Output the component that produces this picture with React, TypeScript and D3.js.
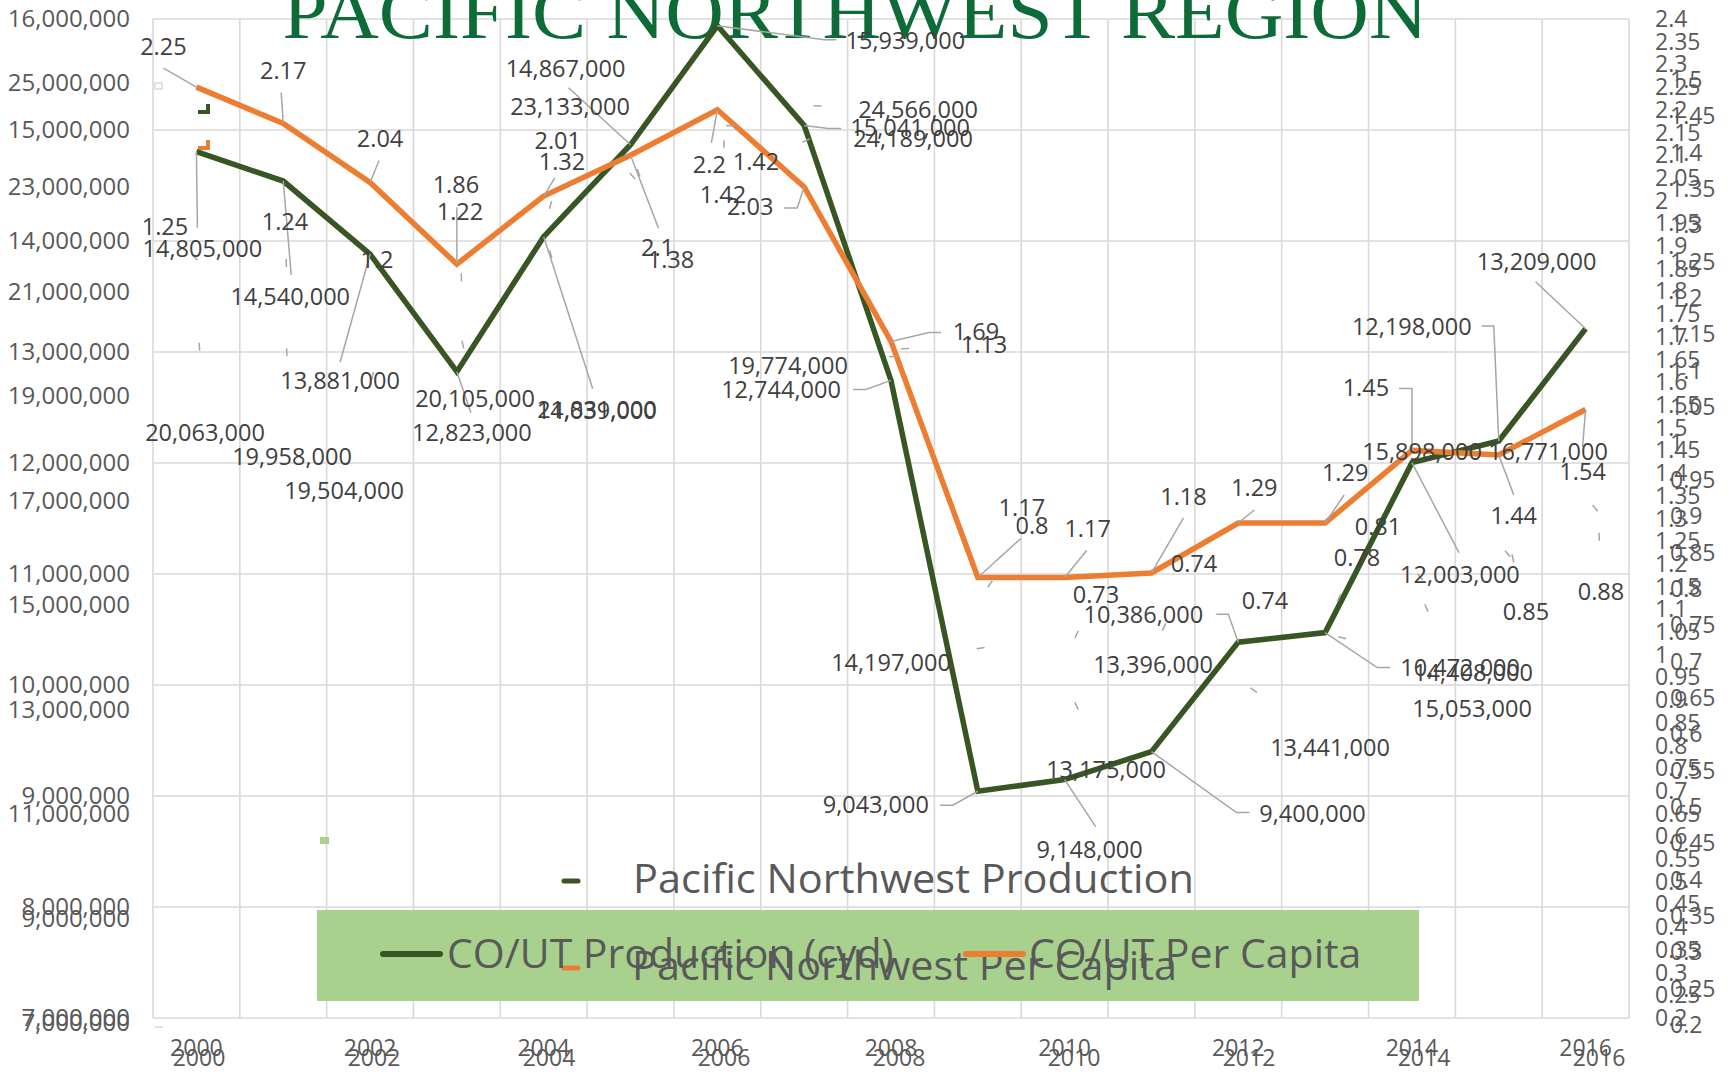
import React from "react";
import * as d3 from "d3";

// ---------- data ----------
const years = [2000, 2001, 2002, 2003, 2004, 2005, 2006, 2007, 2008, 2009, 2010, 2011, 2012, 2013, 2014, 2015, 2016];
const xTickYears = [2000, 2002, 2004, 2006, 2008, 2010, 2012, 2014, 2016];

// CO/UT (primary chart)
const prodCOUT = [14805000, 14540000, 13881000, 12823000, 14039000, 14867000, 15939000, 15041000, 12744000, 9043000, 9148000, 9400000, 10386000, 10472000, 12003000, 12198000, 13209000];
const perCapCOUT = [2.25, 2.17, 2.04, 1.86, 2.01, 2.1, 2.2, 2.03, 1.69, 1.17, 1.17, 1.18, 1.29, 1.29, 1.45, 1.44, 1.54];

// Pacific Northwest (overlaid second chart, labels only)
const prodPNW = [20063000, 19958000, 19504000, 20105000, 21831000, 23133000, 24189000, 24566000, 19774000, 14197000, 13175000, 13396000, 13441000, 14408000, 15053000, 15898000, 16771000];
const perCapPNW = [1.25, 1.24, 1.2, 1.22, 1.32, 1.38, 1.42, 1.42, 1.13, 0.8, 0.73, 0.74, 0.74, 0.78, 0.81, 0.85, 0.88];

const title = "PACIFIC NORTHWEST REGION";
const legendCOUT = ["CO/UT Production (cyd)", "CO/UT Per Capita"];
const legendPNW = ["Pacific Northwest Production", "Pacific Northwest Per Capita"];

// ---------- layout (label offsets from their data point, px) ----------
const prodCOUTLabelOff = [[6, 97], [7, 116], [-30, 127], [15, 61], [53, 174], [-65, -76], [188, 15], [106, 3], [-110, 10], [-102, 14], [25, 70], [161, 62], [-95, -27], [135, 35], [48, 112], [-87, -114], [-49, -67]];
const prodCOUTLeader = [[[1, 76]], [[8, 94]], [[-30, 108]], [[14, 41]], [[49, 152]], [[-62, -57]], [[107, 14], [119, 14]], [[24, 3], [37, 3]], [[-25, 9], [-38, 9]], [[-25, 14], [-38, 14]], [[31, 47]], [[85, 61], [98, 61]], [[-10, -28], [-22, -28]], [[52, 35], [65, 35]], [[47, 90]], [[-5, -115], [-17, -115]], [[-50, -47]]];
const perCapCOUTLabelOff = [[-33, -40], [0, -52], [10, -43], [-1, -79], [14, -55], [27, 93], [-8, 55], [-54, 20], [85, -9], [44, -70], [23, -49], [32, -76], [16, -35], [20, -50], [-46, -62], [15, 61], [-3, 62]];
const perCapCOUTLeader = [[[-33, -19]], [[-2, -31]], [[9, -22]], [[0, -57]], [[11, -18]], [[28, 73]], [[-6, 33]], [[-7, 21], [-20, 21]], [[38, -9], [50, -9]], [[43, -39]], [[22, -27]], [[32, -55]], [[16, -13]], [[19, -28]], [[0, -62], [-13, -62]], [[15, 40]], [[-3, 37]]];
const prodPNWLabelOff = [[6, 92], [5.5, 111], [-30, 121], [13.5, 60], [48, 162], [-66.5, -73], [189, 14], [106.5, 4], [-111, 10], [-95.5, 16], [32, 69], [-8.5, -24], [81, 61], [136.5, 37], [48, 107], [-89.5, -106], [-51, -61]];
const perCapPNWLabelOff = [[-34, -35], [-1.5, -47], [3, -38], [-1.5, -72], [13, -49], [34.5, 93], [-1, 57], [-55.5, 24], [85, -4], [45.5, -63], [22, -45], [32.5, -68], [16, -31.5], [20.5, -45], [-46, -55], [14.5, 59.5], [2, 61]];

const W = 1734;
const H = 1072;
const GREEN = "#375623";
const ORANGE = "#ED7D31";
const GRID = "#D9D9D9";
const AXIS_TXT = "#595959";
const LBL_TXT = "#404040";
const LEADER = "#A6A6A6";
const FONT = "'Open Sans', 'Noto Sans', sans-serif";

export default function App() {
  // primary scales
  const band = d3.scaleBand<number>().domain(years).range([153, 1629]).paddingInner(0).paddingOuter(0);
  const xP = (y: number) => (band(y) as number) + band.bandwidth() / 2;
  const yP = d3.scaleLinear().domain([7e6, 16e6]).range([1018, 19]);
  const yPR = d3.scaleLinear().domain([0.2, 2.4]).range([1018, 19]);
  // secondary (overlaid) scales
  const xS = d3.scaleLinear().domain([2000, 2016]).range([199, 1599]);
  const yS = d3.scaleLinear().domain([7e6, 25e6]).range([1023, 83]);
  const ySR = d3.scaleLinear().domain([0.2, 1.5]).range([1025, 80]);

  const fmtInt = d3.format(",");
  const fmtDec = (v: number) => String(+v.toFixed(2));

  const vLines = [...years.map((y) => band(y) as number), 1629];
  const hTicks = yP.ticks(10);
  const sLeftTicks = d3.range(7, 26, 2).map((v) => v * 1e6);
  const pRightTicks = d3.range(4, 49).map((k) => k * 0.05);
  const sRightTicks = d3.range(4, 31).map((k) => k * 0.05);

  const lineP = d3.line<number>().x((_, i) => xP(years[i])).y((d) => yP(d));
  const lineR = d3.line<number>().x((_, i) => xP(years[i])).y((d) => yPR(d));

  const leaderPath = (x: number, y: number, pts: number[][]) =>
    "M" + x + "," + y + pts.map((p) => "L" + (x + p[0]) + "," + (y + p[1])).join("");

  const stub = (x: number, y: number, off: number[]) => {
    const len = Math.hypot(off[0], off[1]);
    if (len < 45) return null;
    const ux = off[0] / len, uy = off[1] / len;
    return `M${x + ux * 2},${y + uy * 2}L${x + ux * 10},${y + uy * 10}`;
  };

  const primLabels: any[] = [];
  prodCOUT.forEach((v, i) => {
    const x = xP(years[i]), y = yP(v);
    primLabels.push({ x, y, text: fmtInt(v), off: prodCOUTLabelOff[i], lead: prodCOUTLeader[i] });
  });
  perCapCOUT.forEach((v, i) => {
    const x = xP(years[i]), y = yPR(v);
    primLabels.push({ x, y, text: fmtDec(v), off: perCapCOUTLabelOff[i], lead: perCapCOUTLeader[i] });
  });
  const secLabels: any[] = [];
  prodPNW.forEach((v, i) => {
    secLabels.push({ x: xS(years[i]), y: yS(v), text: fmtInt(v), off: prodPNWLabelOff[i] });
  });
  perCapPNW.forEach((v, i) => {
    secLabels.push({ x: xS(years[i]), y: ySR(v), text: fmtDec(v), off: perCapPNWLabelOff[i] });
  });

  return (
    <svg width={W} height={H} viewBox={`0 0 ${W} ${H}`}
      style={{ position: "absolute", left: 0, top: 0, display: "block", background: "#fff" }}>
      <defs>
        <linearGradient id="edge" x1="0" y1="0" x2="0" y2="1">
          <stop offset="0" stopColor="#C5E0B4" />
          <stop offset="0.5" stopColor="#FFE699" />
          <stop offset="1" stopColor="#FFF2CC" />
        </linearGradient>
      </defs>
      <rect x={0} y={0} width={W} height={H} fill="#fff" />
      <line x1={1720} x2={1720} y1={0} y2={H} stroke="url(#edge)" strokeWidth={3} />

      {/* gridlines */}
      <g stroke={GRID} strokeWidth={1.6}>
        {hTicks.map((t) => (
          <line key={"h" + t} x1={153} x2={1629} y1={yP(t)} y2={yP(t)} />
        ))}
        {vLines.map((x, i) => (
          <line key={"v" + i} x1={x} x2={x} y1={yP(16e6)} y2={yP(7e6)} />
        ))}
      </g>
      <line x1={155} x2={163} y1={1027} y2={1027} stroke={GRID} strokeWidth={1.5} />

      {/* title */}
      <text x={855} y={38} textAnchor="middle" fontFamily="'Liberation Serif', 'DejaVu Serif', serif"
        fontSize={76} fill="#0C6B37" textLength={1145} lengthAdjust="spacingAndGlyphs">{title}</text>

      {/* axis labels */}
      <g fontFamily={FONT} fontSize={24} fill={AXIS_TXT}>
        {hTicks.map((t) => (
          <text key={"pl" + t} x={130} y={yP(t) + 8} textAnchor="end">{fmtInt(t)}</text>
        ))}
        {sLeftTicks.map((t) => (
          <text key={"sl" + t} x={130} y={yS(t) + 8} textAnchor="end">{fmtInt(t)}</text>
        ))}
      </g>
      <g fontFamily={FONT} fontSize={23} fill={AXIS_TXT}>
        {pRightTicks.map((t) => (
          <text key={"pr" + t} x={1655} y={yPR(t) + 8}>{fmtDec(t)}</text>
        ))}
        {sRightTicks.map((t) => (
          <text key={"sr" + t} x={1670} y={ySR(t) + 8}>{fmtDec(t)}</text>
        ))}
        {xTickYears.map((y) => (
          <text key={"px" + y} x={xP(y)} y={1056} textAnchor="middle">{y}</text>
        ))}
        {xTickYears.map((y) => (
          <text key={"sx" + y} x={xS(y)} y={1066} textAnchor="middle">{y}</text>
        ))}
      </g>

      {/* stray key fragments of the overlaid chart */}
      <rect x={155} y={83} width={7} height={6} fill="none" stroke={GRID} strokeWidth={1.5} />
      <path d="M198,112 L208,112 L208,104" fill="none" stroke={GREEN} strokeWidth={4} />
      <path d="M198,148 L208,148 L208,140" fill="none" stroke={ORANGE} strokeWidth={4} />
      <rect x={320} y={837} width={9} height={7} fill="#A9D18E" />

      {/* series lines */}
      <path d={lineP(prodCOUT) as string} fill="none" stroke={GREEN} strokeWidth={5.5} strokeLinejoin="miter" />
      <path d={lineR(perCapCOUT) as string} fill="none" stroke={ORANGE} strokeWidth={5.5} strokeLinejoin="miter" />

      {/* leader lines */}
      <g fill="none" stroke={LEADER} strokeWidth={1.5}>
        {primLabels.map((l, i) => (
          <path key={"ld" + i} d={leaderPath(l.x, l.y, l.lead)} />
        ))}
        {secLabels.map((l, i) => {
          const d = stub(l.x, l.y, l.off);
          return d ? <path key={"st" + i} d={d} /> : null;
        })}
      </g>

      {/* data labels */}
      <g fontFamily={FONT} fontSize={23.5} fill={LBL_TXT} textAnchor="middle">
        {secLabels.map((l, i) => (
          <text key={"sl" + i} x={l.x + l.off[0]} y={l.y + l.off[1] + 8}>{l.text}</text>
        ))}
        {primLabels.map((l, i) => (
          <text key={"pl" + i} x={l.x + l.off[0]} y={l.y + l.off[1] + 8}>{l.text}</text>
        ))}
      </g>

      {/* legends */}
      <rect x={317} y={910} width={1102} height={91} fill="#A9D18E" />
      <g fontFamily={FONT} fill={AXIS_TXT}>
        <line x1={564} x2={578} y1={881} y2={881} stroke={GREEN} strokeWidth={5} strokeLinecap="round" />
        <text x={633} y={893} fontSize={41} textLength={561} lengthAdjust="spacingAndGlyphs">{legendPNW[0]}</text>
        <line x1={564} x2={578} y1={968} y2={968} stroke={ORANGE} strokeWidth={5} strokeLinecap="round" />
        <text x={632} y={980} fontSize={41} textLength={545} lengthAdjust="spacingAndGlyphs">{legendPNW[1]}</text>
        <line x1={383} x2={440} y1={954} y2={954} stroke={GREEN} strokeWidth={6} strokeLinecap="round" />
        <text x={447} y={968} fontSize={41}>{legendCOUT[0]}</text>
        <line x1={966} x2={1023} y1={954} y2={954} stroke={ORANGE} strokeWidth={6} strokeLinecap="round" />
        <text x={1029} y={968} fontSize={41}>{legendCOUT[1]}</text>
      </g>
    </svg>
  );
}
